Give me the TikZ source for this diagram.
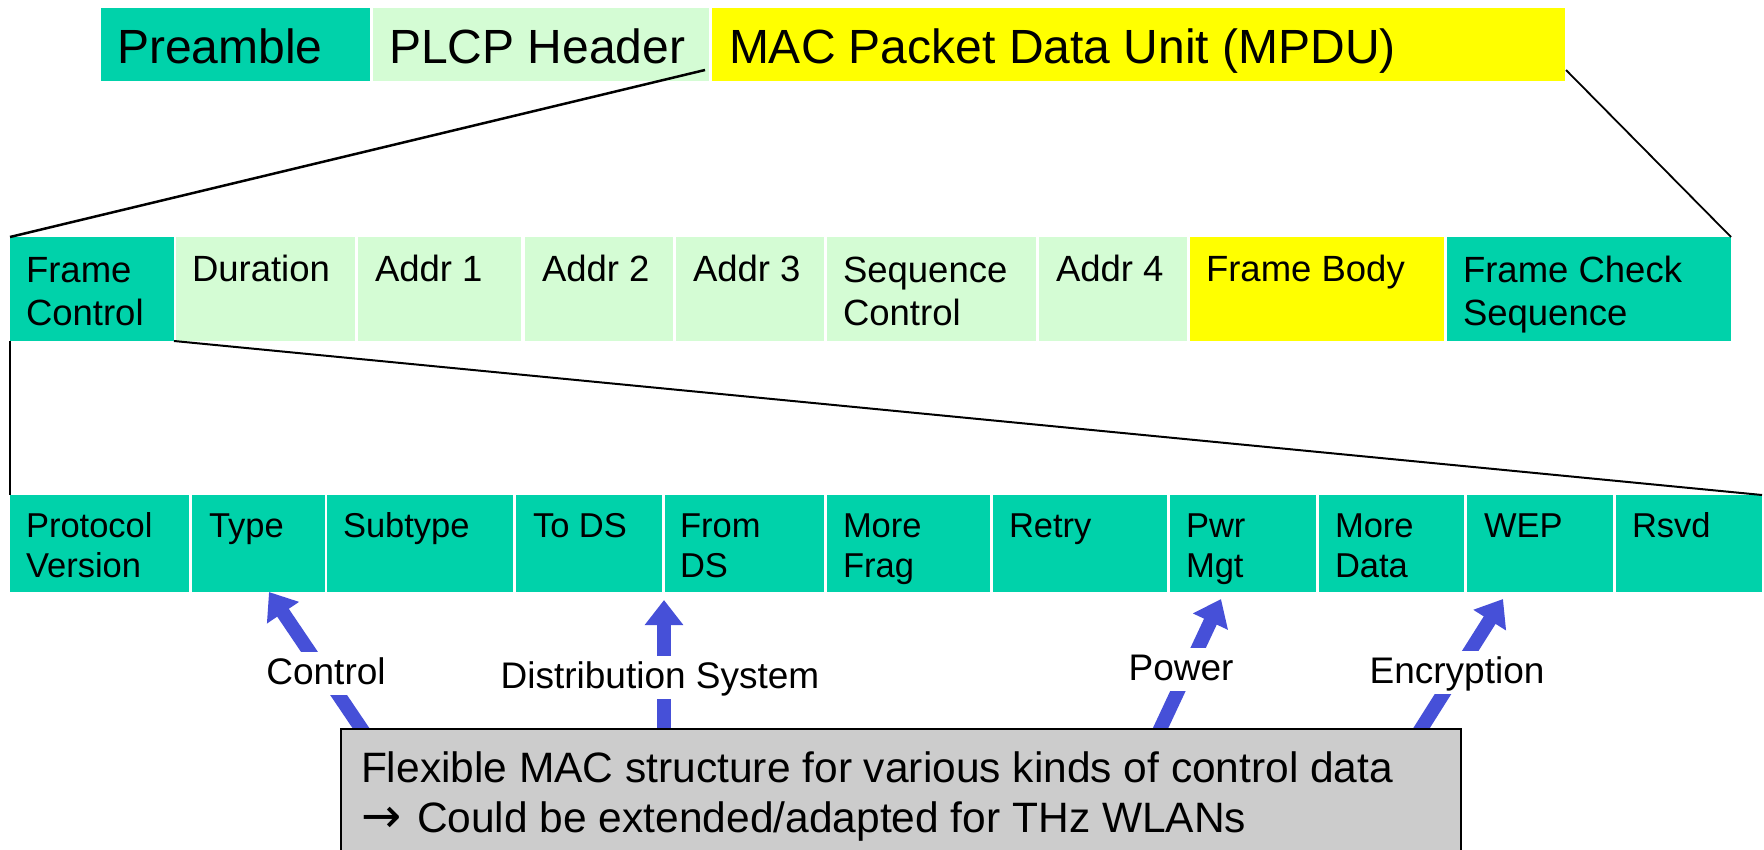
\documentclass[tikz,border=0pt]{standalone}
\usepackage{fontspec}
\setmainfont{Liberation Sans}
\newfontfamily\symfont{DejaVu Sans}
\usetikzlibrary{arrows.meta,calc,backgrounds}
\definecolor{tealc}{RGB}{0,210,170}
\definecolor{mintc}{RGB}{212,252,212}
\definecolor{yelc}{RGB}{255,255,0}
\definecolor{grayc}{RGB}{204,204,204}
\definecolor{bluec}{RGB}{70,80,216}
\begin{document}
\begin{tikzpicture}[x=1pt,y=-1pt,
  cell/.style={draw=none,inner sep=0pt,outer sep=0pt,anchor=north west},
  txt/.style={inner sep=0pt,outer sep=0pt,anchor=base west,align=left},
  topf/.style={font=\fontsize{48}{56}\selectfont},
  midf/.style={font=\fontsize{36.5}{43.3}\selectfont},
  botf/.style={font=\fontsize{34.5}{40}\selectfont},
  lab/.style={fill=white,inner xsep=3pt,inner ysep=2pt,text height=30pt,text depth=9pt,anchor=base,font=\fontsize{37}{44}\selectfont},
  conn/.style={draw=black},
  bigarrow/.style={draw=bluec,line width=14pt,-{Triangle[length=25pt,width=37pt]}}
]
\useasboundingbox (0,0) rectangle (1764,850);

% top row
\node[cell,fill=tealc,minimum width=269pt,minimum height=73pt] (pre) at (101,8) {};
\node[cell,fill=mintc,minimum width=336pt,minimum height=73pt] (plcp) at (373,8) {};
\node[cell,fill=yelc,minimum width=853pt,minimum height=73pt] (mac) at (712,8) {};
\node[txt,topf] (pret) at ($(pre.north west)+(16,56)$) {Preamble};
\node[txt,topf] (plcpt) at ($(plcp.north west)+(16,56)$) {PLCP Header};
\node[txt,topf] (mact) at ($(mac.north west)+(17,56)$) {MAC Packet Data Unit (MPDU)};

% middle row (two-line nodes: base = last line's baseline)
\node[cell,fill=tealc,minimum width=164pt,minimum height=104pt] (fc) at (10,237) {};
\node[cell,fill=mintc,minimum width=179pt,minimum height=104pt] (dur) at (176,237) {};
\node[cell,fill=mintc,minimum width=163pt,minimum height=104pt] (a1) at (358,237) {};
\node[cell,fill=mintc,minimum width=148pt,minimum height=104pt] (a2) at (525,237) {};
\node[cell,fill=mintc,minimum width=148pt,minimum height=104pt] (a3) at (676,237) {};
\node[cell,fill=mintc,minimum width=209pt,minimum height=104pt] (seq) at (827,237) {};
\node[cell,fill=mintc,minimum width=148pt,minimum height=104pt] (a4) at (1039,237) {};
\node[cell,fill=yelc,minimum width=254pt,minimum height=104pt] (body) at (1190,237) {};
\node[cell,fill=tealc,minimum width=284pt,minimum height=104pt] (fcs) at (1447,237) {};
\node[txt,midf] (fct) at ($(fc.north west)+(16,88.3)$) {Frame\\Control};
\node[txt,midf] (durt) at ($(dur.north west)+(16,45)$) {Duration};
\node[txt,midf] (a1t) at ($(a1.north west)+(17,45)$) {Addr 1};
\node[txt,midf] (a2t) at ($(a2.north west)+(17,45)$) {Addr 2};
\node[txt,midf] (a3t) at ($(a3.north west)+(17,45)$) {Addr 3};
\node[txt,midf] (seqt) at ($(seq.north west)+(16,88.3)$) {Sequence\\Control};
\node[txt,midf] (a4t) at ($(a4.north west)+(17,45)$) {Addr 4};
\node[txt,midf] (bodyt) at ($(body.north west)+(16,45)$) {Frame Body};
\node[txt,midf] (fcst) at ($(fcs.north west)+(16,88.3)$) {Frame Check\\Sequence};

% bottom row
\node[cell,fill=tealc,minimum width=179pt,minimum height=97pt] (pv) at (10,495) {};
\node[cell,fill=tealc,minimum width=133pt,minimum height=97pt] (type) at (192,495) {};
\node[cell,fill=tealc,minimum width=186pt,minimum height=97pt] (sub) at (327,495) {};
\node[cell,fill=tealc,minimum width=146pt,minimum height=97pt] (tods) at (516,495) {};
\node[cell,fill=tealc,minimum width=159pt,minimum height=97pt] (fromds) at (665,495) {};
\node[cell,fill=tealc,minimum width=163pt,minimum height=97pt] (mfrag) at (827,495) {};
\node[cell,fill=tealc,minimum width=174pt,minimum height=97pt] (retry) at (993,495) {};
\node[cell,fill=tealc,minimum width=146pt,minimum height=97pt] (pwr) at (1170,495) {};
\node[cell,fill=tealc,minimum width=145pt,minimum height=97pt] (mdata) at (1319,495) {};
\node[cell,fill=tealc,minimum width=146pt,minimum height=97pt] (wep) at (1467,495) {};
\node[cell,fill=tealc,minimum width=146pt,minimum height=97pt] (rsvd) at (1616,495) {};
\node[txt,botf] (pvt) at ($(pv.north west)+(16,82)$) {Protocol\\Version};
\node[txt,botf] (typet) at ($(type.north west)+(17,42)$) {Type};
\node[txt,botf] (subt) at ($(sub.north west)+(16,42)$) {Subtype};
\node[txt,botf] (todst) at ($(tods.north west)+(17,42)$) {To DS};
\node[txt,botf] (fromdst) at ($(fromds.north west)+(15,82)$) {From\\DS};
\node[txt,botf] (mfragt) at ($(mfrag.north west)+(16,82)$) {More\\Frag};
\node[txt,botf] (retryt) at ($(retry.north west)+(16,42)$) {Retry};
\node[txt,botf] (pwrt) at ($(pwr.north west)+(16,82)$) {Pwr\\Mgt};
\node[txt,botf] (mdatat) at ($(mdata.north west)+(16,82)$) {More\\Data};
\node[txt,botf] (wept) at ($(wep.north west)+(17,42)$) {WEP};
\node[txt,botf] (rsvdt) at ($(rsvd.north west)+(16,42)$) {Rsvd};

% note box
\node[cell,fill=grayc,draw=black,line width=2.5pt,minimum width=1120pt,minimum height=160pt] (note) at (341,729) {};
\node[txt,font=\fontsize{42.5}{50}\selectfont] (notet) at ($(note.north west)+(20,103)$) {Flexible MAC structure for various kinds of control data\\{\symfont\fontsize{48}{50}\selectfont →}\hspace{4pt} Could be extended/adapted for THz WLANs};

% connectors
\draw[conn,line width=2.5pt] ($(plcp.south east)+(-4,-11)$) -- (fc.north west);
\draw[conn,line width=1.8pt] ($(mac.south east)+(1,-11)$) -- (fcs.north east);
\draw[conn,line width=2pt] (fc.south west) -- (pv.north west);
\draw[conn,line width=2pt] (fc.south east) -- (rsvd.north east);

% arrows
\begin{scope}[on background layer]
\draw[bigarrow] ($(note.north west)+(28,11)$) -- ($(type.south west)+(77,0)$);
\draw[bigarrow] ($(note.north west)+(323,11)$) -- ($(tods.south east)+(2,8)$);
\draw[bigarrow] ($(note.north west)+(814,11)$) -- ($(pwr.south west)+(51,7)$);
\draw[bigarrow] ($(note.north west)+(1073,11)$) -- ($(wep.south west)+(36,7)$);
\end{scope}

% labels
\node[lab] (lctrl) at (326,684) {Control};
\node[lab] (ldist) at (660,688) {Distribution System};
\node[lab] (lpow) at (1181,680) {Power};
\node[lab] (lenc) at (1457,683) {Encryption};
\end{tikzpicture}
\end{document}
